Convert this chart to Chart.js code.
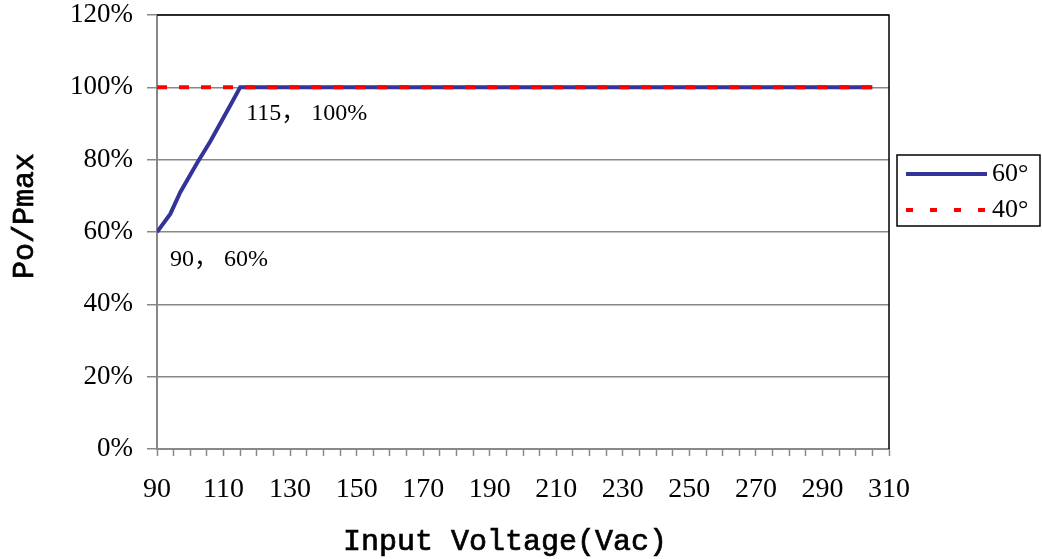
<!DOCTYPE html>
<html>
<head>
<meta charset="utf-8">
<script src="https://cdn.jsdelivr.net/npm/chart.js@4.4.1/dist/chart.umd.min.js"></script>
<style>
  html, body { margin: 0; padding: 0; background: #fff; }
  #wrap { width: 1042px; height: 559px; position: relative; }
</style>
</head>
<body>
<div id="wrap"><canvas id="derating"></canvas></div>
<script>
// === Data ===
const seriesNames = ["60°", "40°"];
const voltage60 = [90, 94, 97, 102, 106, 109, 112, 115, 305];
const load60 = [60, 65, 71, 79, 85, 90, 95, 100, 100];
const voltage40 = [90, 305];
const load40 = [100, 100];
const xTicks = [90, 110, 130, 150, 170, 190, 210, 230, 250, 270, 290, 310];
const yTicks = [0, 20, 40, 60, 80, 100, 120];
const xTitle = "Input Voltage(Vac)";
const yTitle = "Po/Pmax";
const pointNotes = [
  { x: 115, y: 100, text: "115， 100%" },
  { x: 90, y: 60, text: "90， 60%" }
];

const serif = "'Liberation Serif', 'DejaVu Serif', 'Noto Sans CJK SC', serif";
const mono = "'Liberation Mono', 'DejaVu Sans Mono', monospace";

function toPoints(xs, ys) {
  return xs.map((x, i) => ({ x: x, y: ys[i] }));
}

// === Plugin: border atas & kanan + judul sumbu ===
const frame = {
  id: "frame",
  afterDraw(chart) {
    const a = chart.chartArea, c = chart.ctx;
    c.save();
    c.strokeStyle = "#000";
    c.lineWidth = 1.5;
    c.beginPath();
    c.moveTo(a.left, a.top);
    c.lineTo(a.right, a.top);
    c.lineTo(a.right, a.bottom);
    c.stroke();

    c.fillStyle = "#000";
    c.strokeStyle = "#000";
    c.lineWidth = 0.7;
    c.font = "30px " + mono;
    c.textAlign = "center";
    c.textBaseline = "middle";
    c.fillText(xTitle, a.left + 348, a.bottom + 93);
    c.strokeText(xTitle, a.left + 348, a.bottom + 93);
    c.translate(25, a.top + 201);
    c.rotate(-Math.PI / 2);
    c.fillText(yTitle, 0, 0);
    c.strokeText(yTitle, 0, 0);
    c.restore();
  }
};

// === Plugin: label titik ===
const notes = {
  id: "notes",
  afterDatasetsDraw(chart) {
    const c = chart.ctx, xs = chart.scales.x, ys = chart.scales.y;
    const offs = [[6, 26], [13, 28]];
    c.save();
    c.fillStyle = "#000";
    c.font = "24px " + serif;
    c.textBaseline = "middle";
    pointNotes.forEach((n, i) => {
      c.fillText(n.text, xs.getPixelForValue(n.x) + offs[i][0], ys.getPixelForValue(n.y) + offs[i][1]);
    });
    c.restore();
  }
};

// === Plugin: legenda kotak ===
const boxLegend = {
  id: "boxLegend",
  afterDraw(chart) {
    const c = chart.ctx, a = chart.chartArea;
    const left = a.right + 8, top = 155, w = 143, h = 71;
    c.save();
    c.strokeStyle = "#000";
    c.lineWidth = 1.5;
    c.strokeRect(left, top, w, h);
    chart.data.datasets.forEach((ds, i) => {
      const y = top + 19 + i * 36;
      c.strokeStyle = ds.borderColor;
      c.lineWidth = ds.borderWidth;
      c.setLineDash(ds.borderDash ? [7, 17] : []);
      c.beginPath();
      c.moveTo(left + 9, y);
      c.lineTo(left + 90, y);
      c.stroke();
      c.setLineDash([]);
      c.fillStyle = "#000";
      c.font = "26px " + serif;
      c.textBaseline = "middle";
      c.fillText(ds.label, left + 95, y);
    });
    c.restore();
  }
};

// === Inisialisasi Chart ===
const ctx = document.getElementById("derating").getContext("2d");
const chart = new Chart(ctx, {
  type: "line",
  data: {
    datasets: [
      {
        label: seriesNames[0],
        data: toPoints(voltage60, load60),
        borderColor: "#333399",
        borderWidth: 4,
        pointRadius: 0,
        tension: 0,
        order: 1
      },
      {
        label: seriesNames[1],
        data: toPoints(voltage40, load40),
        borderColor: "#ff0000",
        borderWidth: 4,
        borderDash: [10, 12],
        pointRadius: 0,
        tension: 0,
        order: 0
      }
    ]
  },
  options: {
    responsive: true,
    maintainAspectRatio: false,
    animation: false,
    devicePixelRatio: 1,
    layout: { padding: { top: 15, right: 153, left: 0, bottom: 0 } },
    plugins: {
      legend: { display: false },
      tooltip: { enabled: false }
    },
    scales: {
      x: {
        type: "linear",
        min: 90,
        max: 310,
        afterFit: s => {
          s.height = 110;
          s.paddingLeft = 0;
          s.paddingRight = 0;
        },
        afterBuildTicks: s => {
          const t = [];
          for (let v = 90; v <= 310; v += 5) t.push({ value: v });
          s.ticks = t;
        },
        ticks: {
          autoSkip: false,
          maxRotation: 0,
          padding: 17,
          color: "#000",
          font: { family: serif, size: 28 },
          callback: v => xTicks.includes(v) ? String(v) : ""
        },
        grid: {
          drawOnChartArea: false,
          tickLength: 7,
          tickColor: "#888",
          tickWidth: 1.5
        },
        border: { color: "#888", width: 2 }
      },
      y: {
        min: 0,
        max: 120,
        afterFit: s => {
          s.width = 157;
          s.paddingTop = 0;
          s.paddingBottom = 0;
        },
        afterBuildTicks: s => { s.ticks = yTicks.map(v => ({ value: v })); },
        ticks: {
          padding: 14,
          color: "#000",
          font: { family: serif, size: 27 },
          callback: v => v + "%"
        },
        grid: {
          color: "#888",
          lineWidth: 1.5,
          tickLength: 10,
          tickColor: "#888"
        },
        border: { color: "#888", width: 2 }
      }
    }
  },
  plugins: [frame, notes, boxLegend]
});
</script>
</body>
</html>
